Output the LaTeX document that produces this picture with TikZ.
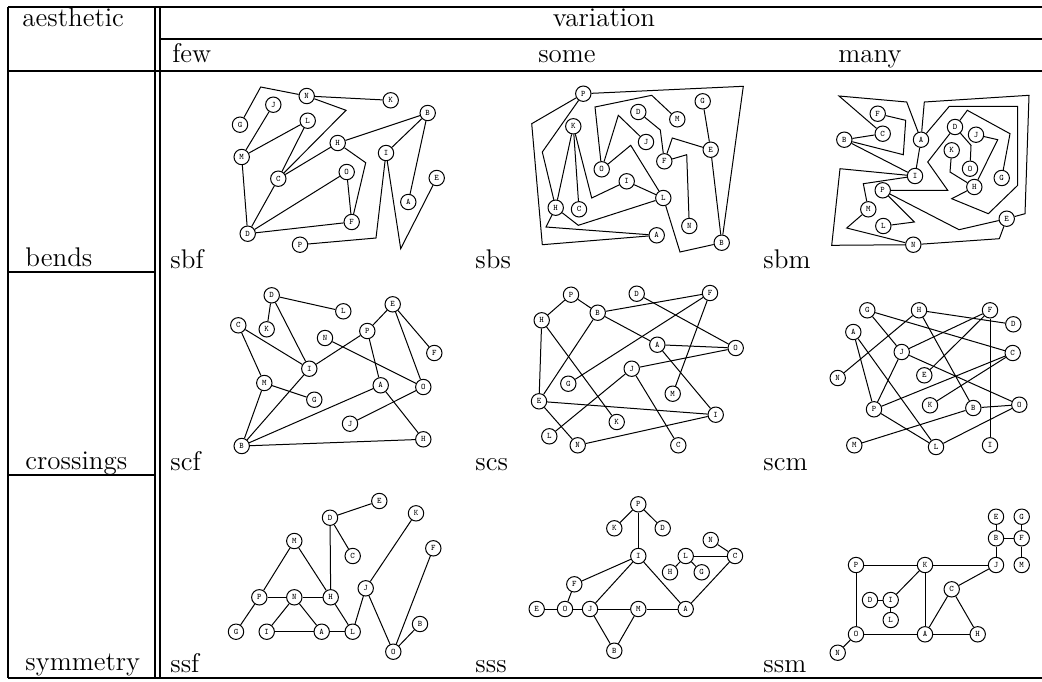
\documentclass[tikz,border=0pt]{standalone}
\begin{document}
\begin{tikzpicture}[x=0.5pt,y=-0.5pt,
  v/.style={circle,draw,line width=0.5pt,minimum size=7.7pt,inner sep=0pt,fill=white,
            font=\fontsize{4.2}{5}\selectfont\ttfamily},
  e/.style={line width=0.5pt},
  tabrule/.style={line width=1pt},
  lab/.style={anchor=base west,inner sep=0pt,font=\fontsize{13.5}{15}\selectfont},
  clab/.style={anchor=base,inner sep=0pt,font=\fontsize{13.5}{15}\selectfont}]
\useasboundingbox (0,0) rectangle (1042,681);

% ---------- table frame ----------
\draw[tabrule] (8,7) -- (1042,7);
\draw[tabrule] (160,39) -- (1042,39);
\draw[tabrule] (8,71) -- (1042,71);
\draw[tabrule] (8,272) -- (155,272);
\draw[tabrule] (8,475) -- (155,475);
\draw[tabrule] (8,678) -- (1042,678);
\draw[tabrule] (8,7) -- (8,678);
\draw[tabrule] (155,7) -- (155,678);
\draw[tabrule] (160,7) -- (160,678);

% ---------- headings ----------
\node[lab] (haes) at (22,26) {aesthetic};
\node[clab] (hvar) at (604,26) {variation};
\node[lab] (hfew) at (172,62) {few};
\node[clab] (hsome) at (567,62) {some};
\node[clab] (hmany) at (870,62) {many};
\node[lab] (rb) at (25,266) {bends};
\node[lab] (rc) at (25,469) {crossings};
\node[lab] (rs) at (25,670) {symmetry};
\node[lab] (lsbf) at (170,268) {sbf};
\node[lab] (lsbs) at (475,268) {sbs};
\node[lab] (lsbm) at (763,268) {sbm};
\node[lab] (lscf) at (170,470) {scf};
\node[lab] (lscs) at (475,470) {scs};
\node[lab] (lscm) at (763,470) {scm};
\node[lab] (lssf) at (170,672) {ssf};
\node[lab] (lsss) at (475,672) {sss};
\node[lab] (lssm) at (763,672) {ssm};

% ---------- sbf ----------
\node[v] (aN) at (306.7,96) {N};
\node[v] (aK) at (390.7,100.3) {K};
\node[v] (aJ) at (273.3,104.7) {J};
\node[v] (aG) at (240,124.7) {G};
\node[v] (aL) at (307.7,120.7) {L};
\node[v] (aB) at (427.7,113) {B};
\node[v] (aH) at (337.7,143) {H};
\node[v] (aI) at (386,153) {I};
\node[v] (aM) at (241.7,157) {M};
\node[v] (aC) at (278.3,178.7) {C};
\node[v] (aO) at (346.7,172) {O};
\node[v] (aE) at (436.7,178) {E};
\node[v] (aA) at (408.3,202) {A};
\node[v] (aF) at (351.7,222) {F};
\node[v] (aD) at (247.7,233.7) {D};
\node[v] (aP) at (300,244.7) {P};
\draw[e] (aG) -- (260.7,87) -- (aN);
\draw[e] (aN) -- (aK);
\draw[e] (aN) -- (346,110.3) -- (aC);
\draw[e] (aJ) -- (aM);
\draw[e] (aM) -- (aL);
\draw[e] (aL) -- (aC);
\draw[e] (aC) -- (aH);
\draw[e] (aH) -- (aB);
\draw[e] (aH) -- (365.7,162.7) -- (aF);
\draw[e] (aO) -- (aF);
\draw[e] (aO) -- (aD);
\draw[e] (aC) -- (aD);
\draw[e] (aM) -- (aD);
\draw[e] (aD) -- (aF);
\draw[e] (aB) -- (aI);
\draw[e] (aB) -- (aA);
\draw[e] (aP) -- (376,238) -- (aI);
\draw[e] (aI) -- (400.7,248.7) -- (aE);

% ---------- sbs ----------
\node[v] (bP) at (583.3,93.7) {P};
\node[v] (bG) at (702.7,101.3) {G};
\node[v] (bD) at (638.3,112) {D};
\node[v] (bM) at (677.3,119.3) {M};
\node[v] (bK) at (573.3,126.3) {K};
\node[v] (bJ) at (646,142) {J};
\node[v] (bE) at (710.7,149.7) {E};
\node[v] (bF) at (664.3,161.3) {F};
\node[v] (bO) at (601.7,169.3) {O};
\node[v] (bI) at (626.7,181.3) {I};
\node[v] (bL) at (663.3,198) {L};
\node[v] (bH) at (555.7,207.7) {H};
\node[v] (bC) at (579,209.3) {C};
\node[v] (bN) at (689.3,226) {N};
\node[v] (bA) at (656.7,235.3) {A};
\node[v] (bB) at (721.7,242.7) {B};
\draw[e] (bP) -- (743.3,86.3) -- (bB);
\draw[e] (bP) -- (531.7,123.7) -- (542.3,244.7) -- (bA);
\draw[e] (bP) -- (542.3,152) -- (bH);
\draw[e] (bK) -- (bH);
\draw[e] (bK) -- (bC);
\draw[e] (bK) -- (591.7,198) -- (bI);
\draw[e] (bI) -- (bL);
\draw[e] (bO) -- (595,107) -- (651.7,95.3) -- (bM);
\draw[e] (bO) -- (618.3,115.3) -- (bJ);
\draw[e] (bO) -- (630.7,145.3) -- (bL);
\draw[e] (bD) -- (660.3,130) -- (bF);
\draw[e] (bF) -- (672.3,138) -- (bE);
\draw[e] (bF) -- (686.7,154.7) -- (bN);
\draw[e] (bG) -- (bE);
\draw[e] (bE) -- (bB);
\draw[e] (bL) -- (680,252) -- (bB);
\draw[e] (bH) -- (546,227) -- (bA);
\draw[e] (bH) -- (578.3,225.3) -- (bL);

% ---------- sbm ----------
\node[v] (cF) at (877.7,113.7) {F};
\node[v] (cC) at (882.7,133.7) {C};
\node[v] (cB) at (844.3,139.7) {B};
\node[v] (cA) at (921,139.7) {A};
\node[v] (cD) at (955,127) {D};
\node[v] (cJ) at (976,134.7) {J};
\node[v] (cK) at (951.7,150.3) {K};
\node[v] (cO) at (970,168.7) {O};
\node[v] (cI) at (915,176) {I};
\node[v] (cG) at (1001.7,178) {G};
\node[v] (cP) at (882.7,190.3) {P};
\node[v] (cH) at (974.3,187) {H};
\node[v] (cM) at (868.3,209.3) {M};
\node[v] (cE) at (1006.7,218.7) {E};
\node[v] (cL) at (883.3,226) {L};
\node[v] (cN) at (913.3,244.7) {N};
\draw[e] (cC) -- (839,96) -- (906.7,102) -- (cA);
\draw[e] (cF) -- (905.7,120.3) -- (903.3,154.7) -- (cB);
\draw[e] (cB) -- (cC);
\draw[e] (cB) -- (cI);
\draw[e] (cA) -- (cI);
\draw[e] (cA) -- (924.3,102) -- (1029,95.3) -- (1025,213.7) -- (cE);
\draw[e] (cA) -- (949.3,106.3) -- (1017.7,106.3) -- (1017.7,185.3) -- (988.3,213.7) -- (951.7,198.7) -- (cH);
\draw[e] (cD) -- (967.3,110.3) -- (1010,133.7) -- (cG);
\draw[e] (cD) -- (927.7,162) -- (947.7,190.3) -- (cP);
\draw[e] (cD) -- (971,145.3) -- (cO);
\draw[e] (cJ) -- (997.7,139.7) -- (cH);
\draw[e] (cK) -- (950,172) -- (cH);
\draw[e] (cI) -- (840,168.7) -- (831.7,245.3) -- (cN);
\draw[e] (cI) -- (863.3,183.7) -- (cM);
\draw[e] (cM) -- (846.7,228) -- (cN);
\draw[e] (cP) -- (914.3,222) -- (cL);
\draw[e] (cP) -- (959,229.7) -- (cE);
\draw[e] (cE) -- (999.3,238.7) -- (cN);

% ---------- scf ----------
\node[v] (dD) at (271.7,295.3) {D};
\node[v] (dL) at (343.3,311.3) {L};
\node[v] (dE) at (392.7,304.3) {E};
\node[v] (dC) at (238.3,325.3) {C};
\node[v] (dK) at (266.7,329.3) {K};
\node[v] (dP) at (367.3,331) {P};
\node[v] (dN) at (325,338) {N};
\node[v] (dF) at (434.3,353) {F};
\node[v] (dI) at (309.3,368.7) {I};
\node[v] (dM) at (264.3,383) {M};
\node[v] (dA) at (380.7,385.3) {A};
\node[v] (dO) at (423.3,387) {O};
\node[v] (dG) at (314.3,399.7) {G};
\node[v] (dJ) at (350,423.7) {J};
\node[v] (dH) at (423.3,439.3) {H};
\node[v] (dB) at (241.7,446) {B};
\foreach \p/\q in {D/L,D/K,D/I,C/I,C/M,M/G,M/B,B/I,I/P,P/E,P/A,E/F,E/O,N/O,A/B,A/H,O/J,B/H}
  \draw[e] (d\p) -- (d\q);

% ---------- scs ----------
\node[v] (eP) at (571,294.7) {P};
\node[v] (eD) at (636.7,293.7) {D};
\node[v] (eF) at (710,293) {F};
\node[v] (eH) at (541.7,320.3) {H};
\node[v] (eB) at (597.7,312.7) {B};
\node[v] (eA) at (657.3,344.7) {A};
\node[v] (eO) at (735.7,348) {O};
\node[v] (eJ) at (631.7,368.7) {J};
\node[v] (eG) at (568.3,383.7) {G};
\node[v] (eM) at (672.7,393.7) {M};
\node[v] (eE) at (539,401.3) {E};
\node[v] (eI) at (715.7,414.7) {I};
\node[v] (eK) at (616.7,422) {K};
\node[v] (eL) at (549.3,436.3) {L};
\node[v] (eN) at (577.7,445.3) {N};
\node[v] (eC) at (678.3,445.3) {C};
\foreach \p/\q in {P/H,P/B,B/F,B/A,B/E,D/O,F/G,F/M,A/O,A/I,J/O,J/L,J/C,H/E,H/K,E/I,E/N,N/I}
  \draw[e] (e\p) -- (e\q);

% ---------- scm ----------
\node[v] (fG) at (867.3,310.3) {G};
\node[v] (fH) at (919,310.3) {H};
\node[v] (fF) at (990,310.3) {F};
\node[v] (fD) at (1013.3,324.3) {D};
\node[v] (fA) at (853.3,332) {A};
\node[v] (fJ) at (901.7,352) {J};
\node[v] (fC) at (1012.7,353) {C};
\node[v] (fE) at (924.3,375.3) {E};
\node[v] (fN) at (837.7,378) {N};
\node[v] (fK) at (930,405.3) {K};
\node[v] (fP) at (874,409.3) {P};
\node[v] (fB) at (973.3,408) {B};
\node[v] (fO) at (1019.3,404.7) {O};
\node[v] (fM) at (854.3,445.3) {M};
\node[v] (fL) at (936,447) {L};
\node[v] (fI) at (990,445.3) {I};
\foreach \p/\q in {G/J,G/C,H/D,H/N,H/B,F/J,F/E,F/I,A/P,A/L,J/P,J/O,C/P,C/K,P/L,B/O,B/M,O/L}
  \draw[e] (f\p) -- (f\q);

% ---------- ssf ----------
\node[v] (gE) at (379.3,501) {E};
\node[v] (gD) at (330,517.7) {D};
\node[v] (gK) at (416,513.3) {K};
\node[v] (gM) at (294.3,541) {M};
\node[v] (gF) at (433.3,548.3) {F};
\node[v] (gC) at (352.7,556) {C};
\node[v] (gJ) at (365.7,588.3) {J};
\node[v] (gP) at (259.3,597.3) {P};
\node[v] (gN) at (294.3,597.3) {N};
\node[v] (gH) at (330.7,597.3) {H};
\node[v] (gB) at (420,624) {B};
\node[v] (gG) at (236,631.7) {G};
\node[v] (gI) at (266.7,631.7) {I};
\node[v] (gA) at (321.7,631.7) {A};
\node[v] (gL) at (352.7,631.7) {L};
\node[v] (gO) at (393.3,651.7) {O};
\foreach \p/\q in {D/E,D/C,D/H,M/P,M/H,P/N,N/H,P/G,N/I,N/A,I/A,A/L,H/L,L/J,J/K,J/O,O/F,O/B}
  \draw[e] (g\p) -- (g\q);

% ---------- sss ----------
\node[v] (hP) at (638.3,504.3) {P};
\node[v] (hK) at (614.3,528.3) {K};
\node[v] (hD) at (662.7,528.3) {D};
\node[v] (hN) at (710.7,540) {N};
\node[v] (hI) at (638.3,556) {I};
\node[v] (hL) at (685.7,556) {L};
\node[v] (hC) at (735,556) {C};
\node[v] (hH) at (670,572.3) {H};
\node[v] (hG) at (701.7,572.3) {G};
\node[v] (hF) at (574.3,584.3) {F};
\node[v] (hE) at (536.7,609) {E};
\node[v] (hO) at (565,609) {O};
\node[v] (hJ) at (590,609) {J};
\node[v] (hM) at (638.3,609) {M};
\node[v] (hA) at (685.7,609) {A};
\node[v] (hB) at (614.3,650.7) {B};
\foreach \p/\q in {P/K,P/D,P/I,I/F,I/J,I/A,F/O,E/O,O/J,J/M,M/A,J/B,M/B,A/C,L/C,N/C,L/H,L/G}
  \draw[e] (h\p) -- (h\q);

% ---------- ssm ----------
\node[v] (iE) at (996,516.7) {E};
\node[v] (iG) at (1021.7,516.7) {G};
\node[v] (iB) at (996,538.3) {B};
\node[v] (iF) at (1021.7,538.3) {F};
\node[v] (iP) at (856,565) {P};
\node[v] (iK) at (925,565) {K};
\node[v] (iJ) at (996,565) {J};
\node[v] (iM) at (1021.7,565) {M};
\node[v] (iC) at (951.7,589.3) {C};
\node[v] (iD) at (870,600) {D};
\node[v] (iI) at (890.7,600) {I};
\node[v] (iL) at (890.7,620) {L};
\node[v] (iO) at (856,634.3) {O};
\node[v] (iA) at (925,634.3) {A};
\node[v] (iH) at (977.7,634.3) {H};
\node[v] (iN) at (837.7,652.7) {N};
\foreach \p/\q in {E/B,G/F,B/F,F/M,B/J,P/K,K/J,P/O,K/A,K/I,D/I,I/L,J/C,C/A,C/H,O/A,A/H,O/N}
  \draw[e] (i\p) -- (i\q);
\end{tikzpicture}
\end{document}
